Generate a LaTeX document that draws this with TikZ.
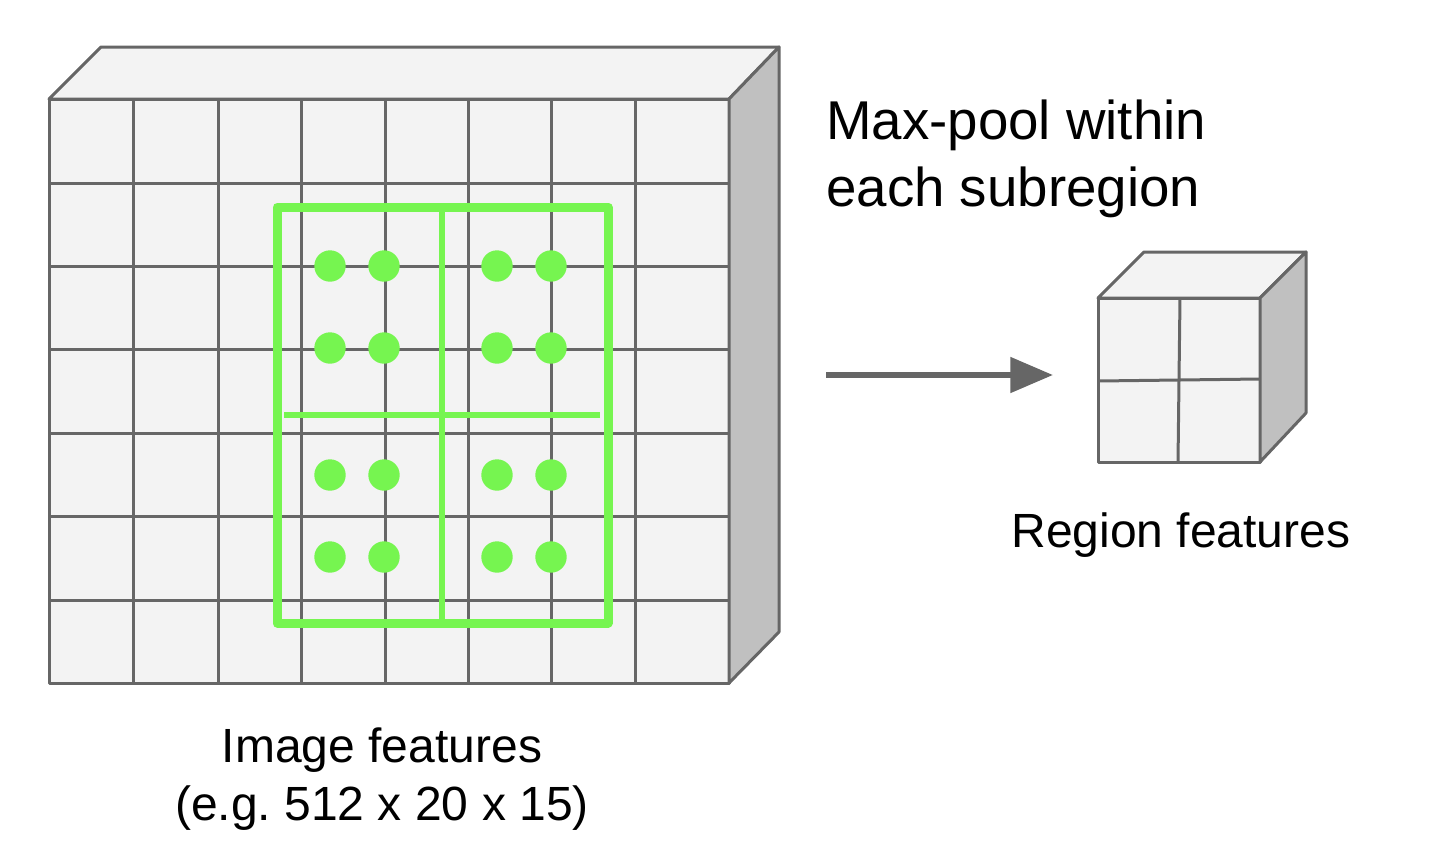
\documentclass[tikz,border=0pt]{standalone}
\usepackage{fontspec}
\setmainfont{Liberation Sans}
\usetikzlibrary{arrows.meta}
\definecolor{facegray}{HTML}{F3F3F3}
\definecolor{sidegray}{HTML}{C0C0C0}
\definecolor{linegray}{HTML}{666666}
\definecolor{roigreen}{HTML}{76F550}
\tikzset{
  face/.style={fill=facegray, draw=linegray, line width=2.25pt, line join=round},
  sideface/.style={fill=sidegray, draw=linegray, line width=2.25pt, line join=round},
  gridline/.style={draw=linegray, line width=2.25pt},
  roibox/.style={draw=roigreen, line width=6.75pt, line join=round},
  roidiv/.style={draw=roigreen, line width=5pt},
  roidot/.style={fill=roigreen},
  biglabel/.style={font=\fontsize{41}{50}\selectfont, inner sep=0pt, align=left},
  label/.style={font=\fontsize{36}{43}\selectfont, inner sep=0pt, align=center},
  flow/.style={draw=linegray, line width=4.5pt, -{Triangle[length=32pt,width=26pt]}}
}
\frenchspacing
\begin{document}
\begin{tikzpicture}[x=0.75pt,y=-0.75pt]
\useasboundingbox (0,0) rectangle (1452,864);
% big feature block
\path[face] (49,99) rectangle (729,683);
\foreach \x in {133,218,301,385,468,551,635} \draw[gridline] (\x,99) -- (\x,683);
\foreach \y in {183,266,349,433,516,600} \draw[gridline] (49,\y) -- (729,\y);
\path[face] (49,99) -- (101,47) -- (779,47) -- (729,99) -- cycle;
\path[sideface] (729,99) -- (779,47) -- (779,632) -- (729,683) -- cycle;
% region of interest
\path[roibox] (277,207) rectangle (608,623);
\draw[roidiv] (442,207) -- (442,623);
\draw[roidiv] (284,415) -- (600,415);
\foreach \x in {330,384,497,551}
  \foreach \y in {266,348,475,557}
    \fill[roidot] (\x,\y) circle (15.7);
% arrow
\coordinate (arrowstart) at (826,375);
\coordinate (arrowend) at (1053,375);
\draw[flow] (arrowstart) -- (arrowend);
% small cube
\path[face] (1098,298) rectangle (1260,462);
\draw[gridline] (1180,298) -- (1178,462);
\draw[gridline] (1098,381) -- (1260,379);
\path[face] (1098,298) -- (1144,252) -- (1306,252) -- (1260,298) -- cycle;
\path[sideface] (1260,298) -- (1306,252) -- (1306,413) -- (1260,462) -- cycle;
% labels
\node[biglabel, anchor=base west] (maxpool) at (826,206) {Max-pool within\\each subregion};
\node[label, anchor=base] (region) at (1181,547) {Region features};
\node[label, anchor=base] (image) at (382,820) {Image features\\(e.g. 512 x 20 x 15)};
\end{tikzpicture}
\end{document}
